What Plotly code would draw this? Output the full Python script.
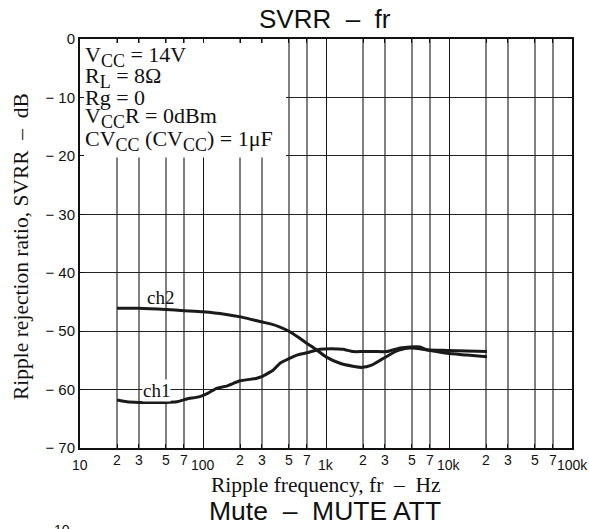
import plotly.graph_objects as go
import numpy as np

# ---- data ----
ch2_freq = [20, 30, 50, 70, 100, 150, 207, 296, 360, 423, 509, 600, 701, 850, 1000, 1300, 1650, 1963, 2350, 2747, 3200, 3506, 4000, 4822, 5800, 7000, 8500, 9634, 14000, 20360]
ch2_db = [-46.1, -46.1, -46.3, -46.5, -46.7, -47.1, -47.6, -48.4, -48.8, -49.3, -50.1, -51.1, -52.1, -53.3, -54.4, -55.5, -56.0, -56.2, -55.8, -55.0, -54.2, -53.7, -53.2, -52.9, -53.0, -53.3, -53.6, -53.8, -54.1, -54.4]

ch1_freq = [20, 24, 30, 40, 50, 61, 74, 94, 110, 129, 156, 200, 270, 300, 371, 423, 500, 581, 701, 894, 1100, 1374, 1659, 2000, 2500, 3133, 3998, 4822, 5808, 6622, 9634, 14000, 20360]
ch1_db = [-61.8, -62.1, -62.2, -62.2, -62.2, -62.1, -61.6, -61.2, -60.6, -59.8, -59.4, -58.5, -58.1, -57.8, -56.7, -55.5, -54.7, -54.1, -53.7, -53.1, -53.0, -53.1, -53.5, -53.5, -53.5, -53.5, -52.9, -52.7, -52.7, -53.2, -53.3, -53.4, -53.5]

decade_vals = [10, 100, 1000, 10000, 100000]
decade_text = ["10", "100", "1k", "10k", "100k"]
digit_vals = [20, 30, 50, 70, 200, 300, 500, 700, 2000, 3000, 5000, 7000,
              20000, 30000, 50000, 70000]
digit_text = ["2", "3", "5", "7"] * 4

y_vals = [0, -10, -20, -30, -40, -50, -60, -70]
y_text = ["0", "\u2212 10", "\u2212 20", "\u2212 30", "\u2212 40", "\u2212 50", "\u2212 60", "\u2212 70"]

SUB = "<sub><span style='font-size:18px'>{}</span></sub>"
cond_lines = ["V" + SUB.format("CC") + " = 14V",
              "R" + SUB.format("L") + " = 8\u03a9",
              "Rg = 0",
              "V" + SUB.format("CC") + "R = 0dBm",
              "CV" + SUB.format("CC") + " (CV" + SUB.format("CC") + ") = 1\u03bcF"]

# ---- geometry helpers (pixel -> paper) ----
L, R, T, B = 80, 572, 39, 448
W, H = R - L, B - T
def px(x):
    return (x - L) / W
def py(y):
    return (B - y) / H

SANS = "Liberation Sans, Arial, sans-serif"
SERIF = "Liberation Serif, Times New Roman, serif"

fig = go.Figure()
fig.add_trace(go.Scatter(x=ch2_freq, y=ch2_db, mode="lines",
                         line=dict(color="#1a1a1a", width=3, shape="spline", smoothing=0.6),
                         showlegend=False, hoverinfo="skip"))
fig.add_trace(go.Scatter(x=ch1_freq, y=ch1_db, mode="lines",
                         line=dict(color="#1a1a1a", width=3, shape="spline", smoothing=0.4),
                         showlegend=False, hoverinfo="skip"))

annotations = []
# x tick labels
for v, t in zip(digit_vals, digit_text):
    annotations.append(dict(x=np.log10(v), y=py(460), xref="x", yref="paper", text=t,
                            showarrow=False, xanchor="center", yanchor="middle",
                            font=dict(family=SANS, size=14, color="#111")))
for v, t in zip(decade_vals, decade_text):
    annotations.append(dict(x=np.log10(v), y=py(465), xref="x", yref="paper", text=t,
                            showarrow=False, xanchor="center", yanchor="middle",
                            font=dict(family=SANS, size=14, color="#111")))
# condition text
line_y = [57, 77, 97, 118, 140]
for t, yy in zip(cond_lines, line_y):
    annotations.append(dict(x=px(83), y=py(yy), xref="paper", yref="paper", text=t,
                            showarrow=False, xanchor="left", yanchor="middle",
                            font=dict(family=SERIF, size=22, color="#111")))
# curve labels
annotations.append(dict(x=np.log10(45), y=-44.2, xref="x", yref="y", text="ch2",
                        showarrow=False, font=dict(family=SERIF, size=19, color="#111")))
annotations.append(dict(x=np.log10(41.5), y=-60.1, xref="x", yref="y", text="ch1",
                        showarrow=False, bgcolor="white", borderpad=0,
                        font=dict(family=SERIF, size=19, color="#111")))
# titles
annotations.append(dict(x=px(325), y=py(18.5), xref="paper", yref="paper", text="SVRR  \u2013  fr",
                        showarrow=False, yanchor="middle",
                        font=dict(family=SANS, size=26, color="#111")))
annotations.append(dict(x=px(326), y=py(485), xref="paper", yref="paper",
                        text="Ripple frequency, fr  \u2013  Hz", showarrow=False, yanchor="middle",
                        font=dict(family=SERIF, size=21.5, color="#111")))
annotations.append(dict(x=px(21), y=py(247), xref="paper", yref="paper",
                        text="Ripple rejection ratio, SVRR  \u2013  dB", showarrow=False,
                        textangle=-90, xanchor="center", yanchor="middle",
                        font=dict(family=SERIF, size=21.5, color="#111")))
annotations.append(dict(x=px(325), y=py(511), xref="paper", yref="paper",
                        text="Mute  \u2013  MUTE ATT", showarrow=False, yanchor="middle",
                        font=dict(family=SANS, size=26.5, color="#111")))
annotations.append(dict(x=px(52), y=py(520), xref="paper", yref="paper", text="10",
                        showarrow=False, yanchor="top",
                        font=dict(family=SANS, size=14, color="#111")))

fig.update_layout(
    width=589, height=529,
    margin=dict(l=L, r=589 - R, t=T, b=529 - B),
    paper_bgcolor="white", plot_bgcolor="white",
    annotations=annotations,
    shapes=[dict(type="rect", xref="paper", yref="y", x0=px(84), x1=px(286),
                 y0=-20.3, y1=-0.7, fillcolor="white", line=dict(width=0), layer="above")],
)
fig.update_xaxes(type="log", range=[1, 5], tickvals=decade_vals, showticklabels=False,
                 showgrid=True, gridcolor="#111", gridwidth=1.4,
                 ticks="inside", ticklen=4, tickcolor="#111",
                 minor=dict(tickvals=digit_vals, showgrid=True, gridcolor="#808080", gridwidth=1.6,
                            ticks="inside", ticklen=4, tickcolor="#111"),
                 showline=True, linecolor="#111", linewidth=2, mirror="ticks", zeroline=False)
fig.update_yaxes(range=[-70, 0], tickvals=y_vals, ticktext=y_text,
                 tickfont=dict(family=SANS, size=15, color="#111"),
                 showgrid=True, gridcolor="#222", gridwidth=1.2,
                 ticks="inside", ticklen=4, tickcolor="#111",
                 showline=True, linecolor="#111", linewidth=2, mirror="ticks", zeroline=False)

fig.write_html("out.html", config={"displayModeBar": False},
               post_script="document.body.style.margin='0';")
